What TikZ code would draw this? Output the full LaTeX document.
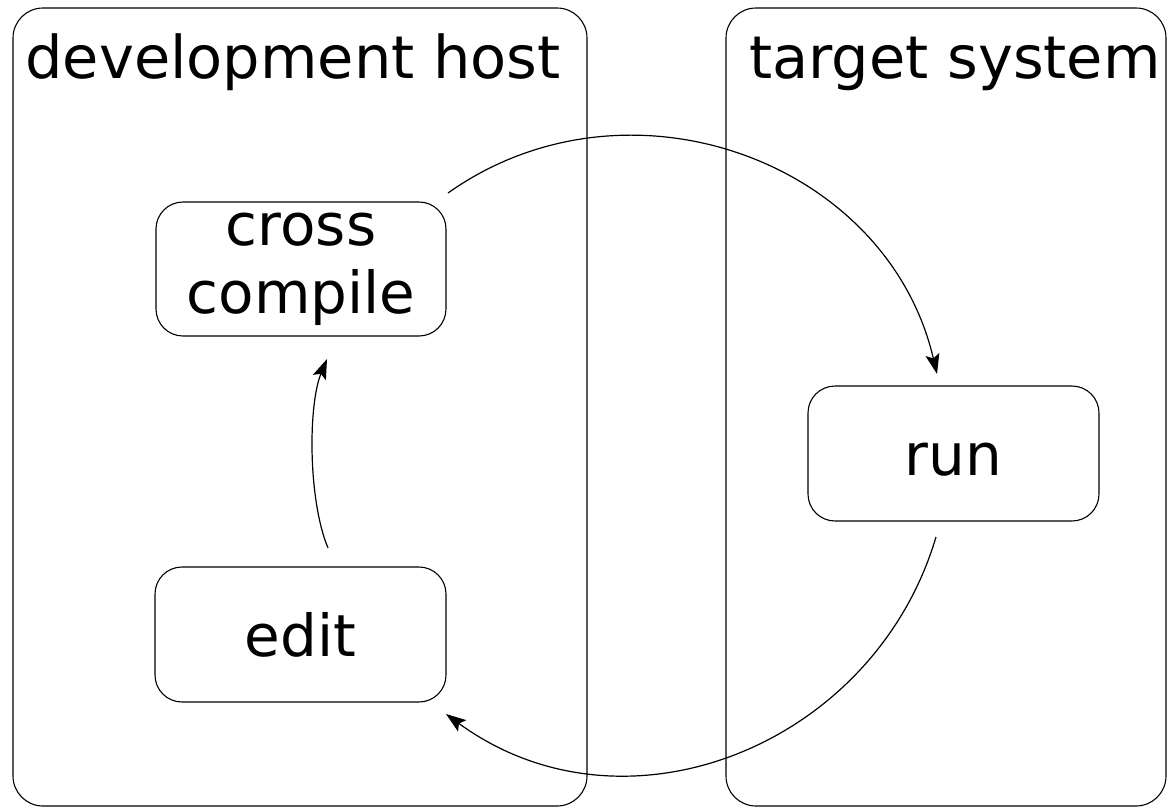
\documentclass[tikz,border=0pt]{standalone}
\usepackage{fontspec}
\setmainfont{DejaVu Sans}
\usetikzlibrary{arrows.meta}
\begin{document}
\begin{tikzpicture}[x=1pt,y=-1pt,
  panel/.style={draw=black,line width=1.1pt,rounded corners=30pt},
  stepbox/.style={draw=black,line width=1.1pt,rounded corners=27pt,inner sep=0pt,
    align=center,font=\fontsize{58}{68}\selectfont},
  title/.style={anchor=base,inner sep=0pt,font=\fontsize{59}{68}\selectfont},
  flow/.style={line width=1.2pt,-{Stealth[length=20pt,width=14pt,inset=4pt]}}]
\useasboundingbox (0,0) rectangle (1168,807);
% panels
\draw[panel] (13,8) rectangle (587,806);
\draw[panel] (726,8) rectangle (1166,806);
\node[title] (dh) at (293,78) {development host};
\node[title] (ts) at (955,78) {target system};
% steps
\node[stepbox,minimum width=290pt,minimum height=134pt] (cc) at (301,269) {cross\\compile};
\node[stepbox,minimum width=291pt,minimum height=135pt,text height=44pt,text depth=0pt] (run) at (953.5,453.5) {run};
\node[stepbox,minimum width=291pt,minimum height=135pt,text height=44pt,text depth=0pt] (edit) at (300.5,634.5) {edit};
% connector ends
\coordinate (e1) at (328,548);
\coordinate (c1) at (327,359);
\coordinate (c2) at (448,193);
\coordinate (r1) at (937,374);
\coordinate (r2) at (936,537);
\coordinate (e2) at (446,714);
\draw[flow] (e1) .. controls (308,500) and (308,405) .. (c1);
\draw[flow] (c2) .. controls (627,66) and (887,160) .. (r1);
\draw[flow] (r2) .. controls (874,746) and (625,845) .. (e2);
\end{tikzpicture}
\end{document}
